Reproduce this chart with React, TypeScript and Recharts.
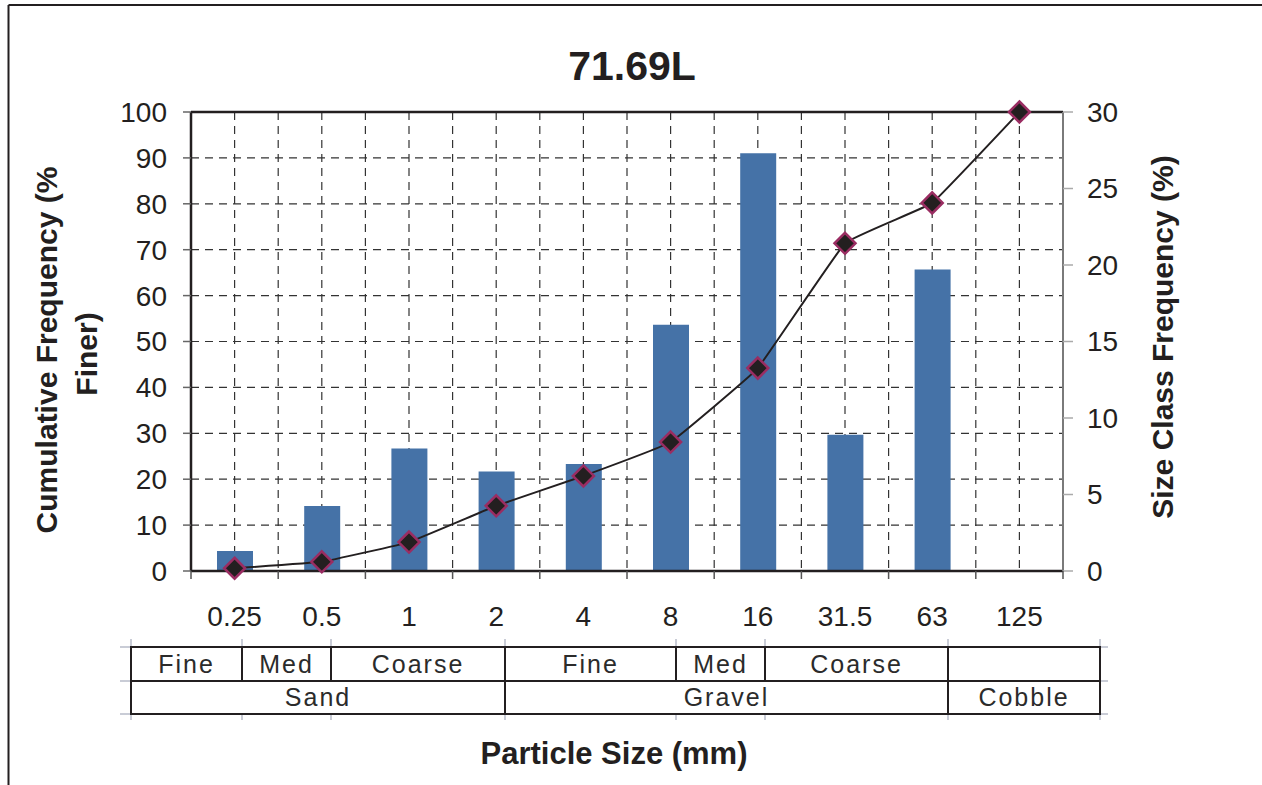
import React from "react";
import {
  ComposedChart,
  Bar,
  Line,
  XAxis,
  YAxis,
  CartesianGrid,
  ReferenceLine,
} from "recharts";

const sizes = ["0.25", "0.5", "1", "2", "4", "8", "16", "31.5", "63", "125"];
const classFreq = [1.3, 4.25, 8.0, 6.5, 7.0, 16.1, 27.3, 8.9, 19.7, 0];
const cumFreq = [0.6, 2.0, 6.3, 14.2, 20.7, 28.1, 44.2, 71.4, 80.2, 100];

const leftTicks = [0, 10, 20, 30, 40, 50, 60, 70, 80, 90, 100];
const rightTicks = [0, 5, 10, 15, 20, 25, 30];

// classification table under the axis
const subClassLabels = ["Fine", "Med", "Coarse", "Fine", "Med", "Coarse", ""];
const subClassEdges = [131, 242, 331, 505, 676, 765, 948, 1100];
const classLabels = ["Sand", "Gravel", "Cobble"];
const classEdges = [131, 505, 948, 1100];

const data = sizes.map((s, i) => ({
  size: s,
  freq: classFreq[i],
  cum: cumFreq[i],
}));

const W = 1262;
const H = 785;
const FONT = "'Liberation Sans', Arial, Helvetica, sans-serif";
const BAR = "#4572a7";

// lightly smoothed line, like a spreadsheet "smoothed line" with low tension
const K = 0.04;
const softCurve = (context: any) => {
  let pts: number[][] = [];
  return {
    areaStart() {},
    areaEnd() {},
    lineStart() {
      pts = [];
    },
    point(x: number, y: number) {
      pts.push([+x, +y]);
    },
    lineEnd() {
      const n = pts.length;
      if (!n) return;
      context.moveTo(pts[0][0], pts[0][1]);
      for (let i = 0; i < n - 1; i++) {
        const p0 = pts[Math.max(i - 1, 0)];
        const p1 = pts[i];
        const p2 = pts[i + 1];
        const p3 = pts[Math.min(i + 2, n - 1)];
        context.bezierCurveTo(
          p1[0] + (p2[0] - p0[0]) * K,
          p1[1] + (p2[1] - p0[1]) * K,
          p2[0] - (p3[0] - p1[0]) * K,
          p2[1] - (p3[1] - p1[1]) * K,
          p2[0],
          p2[1]
        );
      }
    },
  };
};

const Diamond = (props: any) => {
  const { cx, cy, index } = props;
  if (cx == null || cy == null) return <g key={index} />;
  const r = 10.5;
  return (
    <polygon
      key={index}
      points={`${cx},${cy - r} ${cx + r},${cy} ${cx},${cy + r} ${cx - r},${cy}`}
      fill="#231f20"
      stroke="#9a2d62"
      strokeWidth={2.5}
    />
  );
};

const TICK_SIZE = 8;
const TICK_MARGIN = 30;

const SizeTick = (props: any) => {
  const { x, y, payload, index, visibleTicksCount } = props;
  const half = payload && payload.offset ? payload.offset : 43.6;
  const axisY = y - TICK_SIZE - TICK_MARGIN;
  return (
    <g>
      <line x1={x - half} y1={axisY} x2={x - half} y2={axisY + TICK_SIZE} stroke="#555" strokeWidth={1.5} />
      {index === visibleTicksCount - 1 && (
        <line x1={x + half} y1={axisY} x2={x + half} y2={axisY + TICK_SIZE} stroke="#555" strokeWidth={1.5} />
      )}
      <text x={x} y={axisY + 55} textAnchor="middle" fontSize={28} fill="#231f20" fontFamily={FONT}>
        {payload.value}
      </text>
    </g>
  );
};

const verticalGrid = (props: any) => {
  const { offset } = props;
  const n = sizes.length * 2;
  const step = offset.width / n;
  const out: number[] = [];
  for (let i = 1; i < n; i++) out.push(offset.left + i * step);
  return out;
};

function Overlay() {
  const rowTop = 647;
  const rowMid = 681;
  const rowBot = 714;
  const faint = "#c9ccd6";
  return (
    <svg
      width={W}
      height={H}
      style={{ position: "absolute", left: 0, top: 0, pointerEvents: "none" }}
      fontFamily={FONT}
    >
      {/* frame */}
      <line x1={8.5} y1={5} x2={W} y2={5} stroke="#231f20" strokeWidth={2} />
      <line x1={8.5} y1={5} x2={8.5} y2={H} stroke="#231f20" strokeWidth={2} />

      <text x={632} y={80} textAnchor="middle" fontSize={41} fontWeight="bold" fill="#231f20">
        71.69L
      </text>

      <text transform="translate(57,350) rotate(-90)" textAnchor="middle" fontSize={30} fontWeight="bold" fill="#231f20">
        Cumulative Frequency (%
      </text>
      <text transform="translate(97,354) rotate(-90)" textAnchor="middle" fontSize={30} fontWeight="bold" fill="#231f20">
        Finer)
      </text>
      <text transform="translate(1173,337) rotate(-90)" textAnchor="middle" fontSize={30} fontWeight="bold" fill="#231f20">
        Size Class Frequency (%)
      </text>
      <text x={614} y={764} textAnchor="middle" fontSize={31} fontWeight="bold" fill="#231f20">
        Particle Size (mm)
      </text>

      {/* table faint guide extensions */}
      {[rowTop, rowMid, rowBot].map((yy) => (
        <g key={"h" + yy}>
          <line x1={120} y1={yy} x2={131} y2={yy} stroke={faint} strokeWidth={2} />
          <line x1={1100} y1={yy} x2={1108} y2={yy} stroke={faint} strokeWidth={2} />
        </g>
      ))}
      {subClassEdges.map((xx) => (
        <g key={"v" + xx}>
          <line x1={xx} y1={639} x2={xx} y2={rowTop} stroke={faint} strokeWidth={2} />
          <line x1={xx} y1={rowBot} x2={xx} y2={720} stroke={faint} strokeWidth={2} />
        </g>
      ))}

      {/* table */}
      <rect x={131} y={rowTop} width={1100 - 131} height={rowBot - rowTop} fill="none" stroke="#231f20" strokeWidth={2} />
      <line x1={131} y1={rowMid} x2={1100} y2={rowMid} stroke="#231f20" strokeWidth={2} />
      {subClassEdges.slice(1, -1).map((xx) => (
        <line key={"s" + xx} x1={xx} y1={rowTop} x2={xx} y2={rowMid} stroke="#231f20" strokeWidth={2} />
      ))}
      {classEdges.slice(1, -1).map((xx) => (
        <line key={"c" + xx} x1={xx} y1={rowMid} x2={xx} y2={rowBot} stroke="#231f20" strokeWidth={2} />
      ))}
      {subClassLabels.map((lab, i) => (
        <text
          key={"sl" + i}
          x={(subClassEdges[i] + subClassEdges[i + 1]) / 2}
          y={673}
          textAnchor="middle"
          fontSize={25}
          letterSpacing={2}
          fill="#2b2b2b"
        >
          {lab}
        </text>
      ))}
      {classLabels.map((lab, i) => (
        <text
          key={"cl" + i}
          x={(classEdges[i] + classEdges[i + 1]) / 2}
          y={706}
          textAnchor="middle"
          fontSize={25}
          letterSpacing={2}
          fill="#2b2b2b"
        >
          {lab}
        </text>
      ))}
    </svg>
  );
}

export default function App() {
  return (
    <div style={{ position: "absolute", left: 0, top: 0, width: W, height: H, background: "#fff" }}>
      <ComposedChart
        width={W}
        height={H}
        data={data}
        margin={{ top: 112, right: 119, bottom: 164, left: 111 }}
        barCategoryGap={0}
      >
        <CartesianGrid
          yAxisId="left"
          stroke="#333"
          strokeDasharray="8 6"
          strokeWidth={1.2}
          verticalCoordinatesGenerator={verticalGrid}
        />
        <XAxis
          dataKey="size"
          type="category"
          height={50}
          interval={0}
          tickLine={false}
          tickSize={TICK_SIZE}
          tickMargin={TICK_MARGIN}
          axisLine={{ stroke: "#231f20", strokeWidth: 2.5 }}
          tick={<SizeTick />}
        />
        <YAxis
          yAxisId="left"
          orientation="left"
          width={80}
          domain={[0, 100]}
          ticks={leftTicks}
          interval={0}
          tickSize={8}
          tickMargin={16}
          axisLine={{ stroke: "#231f20", strokeWidth: 2.5 }}
          tickLine={{ stroke: "#666", strokeWidth: 1.5 }}
          tick={{ fontSize: 28, fill: "#231f20", fontFamily: FONT }}
        />
        <YAxis
          yAxisId="right"
          orientation="right"
          width={80}
          domain={[0, 30]}
          ticks={rightTicks}
          interval={0}
          tickSize={10}
          tickMargin={14}
          axisLine={{ stroke: "#7a7a7a", strokeWidth: 2 }}
          tickLine={{ stroke: "#aaa", strokeWidth: 1.5 }}
          tick={{ fontSize: 28, fill: "#231f20", fontFamily: FONT }}
        />
        <ReferenceLine yAxisId="left" y={100} stroke="#231f20" strokeWidth={2.5} />
        <Bar yAxisId="right" dataKey="freq" fill={BAR} barSize={36} isAnimationActive={false} />
        <Line
          yAxisId="left"
          type={softCurve as any}
          dataKey="cum"
          stroke="#231f20"
          strokeWidth={2}
          dot={Diamond}
          activeDot={false}
          isAnimationActive={false}
        />
      </ComposedChart>
      <Overlay />
    </div>
  );
}
